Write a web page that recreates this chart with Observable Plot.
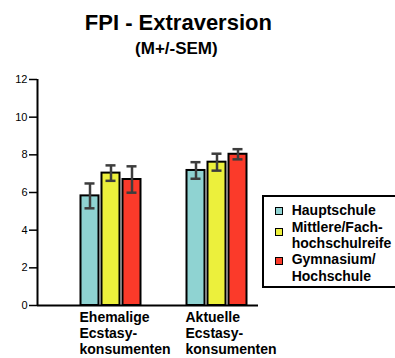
<!DOCTYPE html>
<html>
<head>
<meta charset="utf-8">
<script src="https://cdn.jsdelivr.net/npm/d3@7"></script>
<script src="https://cdn.jsdelivr.net/npm/@observablehq/plot@0.6"></script>
<style>
  html, body { margin: 0; padding: 0; background: #fff; }
  #wrap { position: relative; width: 395px; height: 358px; overflow: hidden; font-family: "Liberation Sans", Arial, sans-serif; }
  #wrap svg { position: absolute; left: 0; top: 0; }
  .title { position: absolute; font-weight: bold; line-height: 1; text-align: center; color: #000; white-space: nowrap; }
  #legend { position: absolute; left: 262px; top: 194.5px; width: 150px; height: 93px; box-sizing: border-box; border: 2px solid #000; background: #fff; }
  .lgtext { position: absolute; left: 291.7px; font-weight: bold; font-size: 14px; line-height: 16.4px; white-space: nowrap; color: #000; }
  .sw { position: absolute; left: 275px; width: 8px; height: 8px; box-sizing: border-box; border: 1.5px solid #000; }
</style>
</head>
<body>
<div id="wrap"></div>
<script>
// ---- data ----
const groups = ["Ehemalige\nEcstasy-\nkonsumenten", "Aktuelle\nEcstasy-\nkonsumenten"];
const series = ["Hauptschule", "Mittlere/Fachhochschulreife", "Gymnasium/Hochschule"];
const legendLabels = ["Hauptschule", "Mittlere/Fach-\nhochschulreife", "Gymnasium/\nHochschule"];
const colors = ["#8fd3d2", "#ecf03c", "#fb3a2a"];
const meanHaupt = [5.82, 7.17];
const meanMittlere = [7.03, 7.61];
const meanGymnasium = [6.69, 8.03];
const semHaupt = [0.66, 0.44];
const semMittlere = [0.41, 0.45];
const semGymnasium = [0.70, 0.27];
const yTicks = [0, 2, 4, 6, 8, 10, 12];
const title = "FPI - Extraversion";
const subtitle = "(M+/-SEM)";

const means = [meanHaupt, meanMittlere, meanGymnasium];
const sems = [semHaupt, semMittlere, semGymnasium];
const rows = [];
series.forEach((s, i) => groups.forEach((g, j) => rows.push({group: g, series: s, si: i, mean: means[i][j], sem: sems[i][j]})));

const slot = 21; // pixel slot of each bar inside a group band
const marks = [];
series.forEach((s, i) => {
  const d = rows.filter(r => r.si === i);
  marks.push(Plot.barY(d, {x: "group", y: "mean", fill: colors[i], stroke: "#000", strokeWidth: 2,
    insetLeft: 1.5 + slot * i, insetRight: 1.5 + slot * (2 - i)}));
});
series.forEach((s, i) => {
  const d = rows.filter(r => r.si === i);
  marks.push(Plot.ruleX(d, {x: "group", y1: r => r.mean - r.sem, y2: r => r.mean + r.sem, dx: (i - 1) * slot, stroke: "#3d3d3d", strokeWidth: 2.5}));
  marks.push(Plot.tickY(d, {x: "group", y: r => r.mean + r.sem, stroke: "#3d3d3d", strokeWidth: 2.5,
    insetLeft: slot * i + 5.5, insetRight: slot * (2 - i) + 5.5}));
  marks.push(Plot.tickY(d, {x: "group", y: r => r.mean - r.sem, stroke: "#3d3d3d", strokeWidth: 2.5,
    insetLeft: slot * i + 5.5, insetRight: slot * (2 - i) + 5.5}));
});
marks.push(Plot.ruleY([0], {stroke: "#000", strokeWidth: 2}));
marks.push(Plot.ruleX([0], {x: null, y1: 0, y2: 12, dx: -(221 / 2), stroke: "#000", strokeWidth: 2}));
marks.push(Plot.axisY({ticks: yTicks, tickSize: 8, tickPadding: 2, fontSize: 11, label: null, stroke: "#000", strokeWidth: 1.5, fill: "#000"}));
marks.push(Plot.text(groups, {x: d => d, text: d => d, frameAnchor: "bottom", textAnchor: "start", lineAnchor: "top",
  dx: -31.5, dy: 4.5, lineHeight: 1.17, fontSize: 14, fontWeight: "bold", fill: "#000"}));

const chart = Plot.plot({
  width: 395, height: 358,
  marginLeft: 37, marginRight: 137, marginTop: 79, marginBottom: 53,
  style: {fontFamily: "'Liberation Sans', Arial, sans-serif", background: "transparent", color: "#000"},
  x: {domain: groups, paddingInner: 0.41, paddingOuter: 0.2396, align: 0.805, axis: null},
  y: {domain: [0, 12], axis: null},
  marks
});
const wrap = document.getElementById("wrap");
wrap.appendChild(chart);

function addTitle(text, size, centerX, baseline) {
  const el = document.createElement("div");
  el.className = "title";
  el.textContent = text;
  el.style.fontSize = size + "px";
  el.style.left = (centerX - 150) + "px";
  el.style.width = "300px";
  el.style.top = (baseline - size * 0.8305) + "px";
  wrap.appendChild(el);
}
addTitle(title, 22, 178.4, 30);
addTitle(subtitle, 17, 176.4, 54);

const lg = document.createElement("div");
lg.id = "legend";
wrap.appendChild(lg);
const lines = legendLabels.join("\n").split("\n");
lines.forEach((t, k) => {
  const el = document.createElement("div");
  el.className = "lgtext";
  el.textContent = t;
  el.style.top = (202.2 + k * 16.4) + "px";
  wrap.appendChild(el);
});
let lineIdx = 0;
legendLabels.forEach((t, i) => {
  const sw = document.createElement("div");
  sw.className = "sw";
  sw.style.background = colors[i];
  sw.style.top = (207 + lineIdx * 16.4 + (i === 2 ? 1 : 0) + (i === 1 ? 5 : 0)) + "px";
  wrap.appendChild(sw);
  lineIdx += t.split("\n").length;
});
</script>
</body>
</html>
